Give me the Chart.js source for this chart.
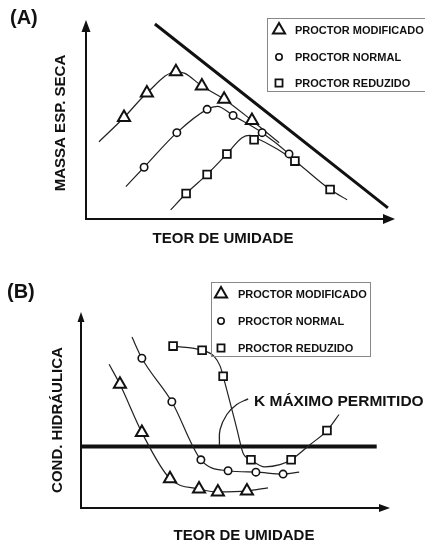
<!DOCTYPE html>
<html>
<head>
<meta charset="utf-8">
<script src="https://cdn.jsdelivr.net/npm/chart.js"></script>
<style>
  html, body { margin: 0; padding: 0; background: #fff; }
  #wrap { position: relative; width: 425px; height: 543px; overflow: hidden; }
  canvas { position: absolute; left: 0; }
  #chartA { top: 0; }
  #chartB { top: 270px; }
</style>
</head>
<body>
<div id="wrap">
  <canvas id="chartA" width="425" height="270"></canvas>
  <canvas id="chartB" width="425" height="273"></canvas>
</div>
<script>
// legend entries (same for both panels)
const seriesNames = ["PROCTOR MODIFICADO", "PROCTOR NORMAL", "PROCTOR REDUZIDO"];
const seriesStyles = ["triangle", "circle", "rect"];

// values are relative units 0-100: x = teor de umidade, y = property

// (A) massa esp. seca - measured points
const massaModificado = [[12.3, 51.0], [19.7, 63.3], [29.1, 74.0], [37.5, 66.8], [44.7, 60.2], [53.7, 49.5]];
const massaNormal = [[18.8, 26.0], [29.4, 43.4], [39.2, 55.1], [47.6, 52.0], [57.0, 43.4], [65.7, 32.7]];
const massaReduzido = [[32.4, 12.8], [39.2, 22.4], [45.6, 32.7], [54.4, 39.8], [67.6, 29.1], [79.0, 14.8]];
// (A) fitted compaction curves
const curvaModificado = [[4.2, 38.8], [12.3, 51.0], [19.7, 63.3], [29.1, 74.0], [32.0, 73.2], [37.5, 66.8], [44.7, 60.2], [53.7, 49.5], [62.5, 38.3]];
const curvaNormal = [[12.9, 16.3], [18.8, 26.0], [29.4, 43.4], [39.2, 55.1], [42.5, 56.6], [47.6, 52.0], [57.0, 43.4], [65.7, 32.7], [69.3, 27.0]];
const curvaReduzido = [[27.4, 4.6], [32.4, 12.8], [39.2, 22.4], [45.6, 32.7], [50.5, 40.8], [53.0, 42.0], [54.4, 41.2], [62.0, 35.0], [67.6, 29.1], [79.0, 14.8], [84.5, 9.7]];
// (A) line of optimums (saturation)
const linhaSaturacao = [[22.3, 98.0], [97.7, 5.6]];

// (B) cond. hidraulica - measured points
const kModificado = [[12.6, 63.1], [19.7, 38.5], [28.8, 14.9], [38.2, 9.7], [44.3, 8.2], [53.7, 8.7]];
const kNormal = [[19.7, 76.4], [29.4, 54.2], [38.8, 24.6], [47.6, 19.0], [56.6, 18.3], [65.4, 17.3]];
const kReduzido = [[29.8, 82.6], [39.2, 80.5], [46.0, 67.2], [55.0, 24.6], [68.0, 24.6], [79.6, 39.5]];
// (B) fitted curves
const curvaKModificado = [[9.1, 73.3], [12.6, 63.1], [19.7, 38.5], [28.8, 14.9], [38.2, 9.7], [44.3, 8.2], [53.7, 8.7], [60.5, 10.3]];
const curvaKNormal = [[16.5, 87.2], [19.7, 76.4], [29.4, 54.2], [38.8, 24.6], [47.6, 19.0], [56.6, 18.3], [65.4, 17.3], [70.6, 18.3]];
const curvaKReduzido = [[29.8, 82.6], [39.2, 80.5], [43.0, 77.5], [45.0, 72.5], [46.0, 67.2], [50.5, 40.0], [52.4, 28.2], [55.0, 24.6], [59.5, 21.0], [64.4, 22.1], [68.0, 24.6], [74.1, 32.3], [79.6, 39.5], [83.5, 47.7]];
// (B) maximum allowed k and its label leader
const kMaximo = [[0, 31.4], [95.7, 31.4]];
const kLeader = [[44.8, 32.3], [45.0, 40.0], [47.2, 47.7], [50.4, 52.8], [54.1, 55.7]];

const FONT = '"Liberation Sans", Arial, sans-serif';
const INK = "#111";
const markerRadius = { triangle: 7, circle: 3.7, rect: 5.5 };
const markerBorder = { triangle: 2, circle: 1.6, rect: 1.8 };

const pts = arr => arr.map(([x, y]) => ({ x, y }));

function curve(arr, width, tension) {
  return {
    data: pts(arr),
    showLine: true,
    pointRadius: 0,
    borderColor: "#222",
    borderWidth: width,
    cubicInterpolationMode: tension ? "default" : "monotone",
    tension: tension || 0,
    clip: false,
    order: 2
  };
}

function markers(arr, i) {
  const style = seriesStyles[i];
  return {
    data: pts(arr),
    showLine: false,
    pointStyle: style,
    pointRadius: markerRadius[style],
    pointBorderWidth: markerBorder[style],
    pointBorderColor: INK,
    pointBackgroundColor: "#fff",
    clip: false,
    order: 0
  };
}

function drawMarker(ctx, style, x, y, r) {
  ctx.beginPath();
  if (style === "triangle") {
    for (let k = 0; k < 3; k++) {
      const a = k * 2 * Math.PI / 3;
      const px = x + Math.sin(a) * r, py = y - Math.cos(a) * r;
      k ? ctx.lineTo(px, py) : ctx.moveTo(px, py);
    }
    ctx.closePath();
  } else if (style === "circle") {
    ctx.arc(x, y, r, 0, Math.PI * 2);
  } else {
    const s = r * Math.SQRT1_2;
    ctx.rect(x - s, y - s, 2 * s, 2 * s);
  }
  ctx.fillStyle = "#fff";
  ctx.fill();
  ctx.lineWidth = markerBorder[style];
  ctx.strokeStyle = INK;
  ctx.stroke();
}

// axes with arrows, titles, panel letter and the boxed legend
function decor(cfg) {
  return {
    id: "decor",
    afterDraw(chart) {
      const ctx = chart.ctx;
      const a = chart.chartArea;
      ctx.save();
      ctx.strokeStyle = INK;
      ctx.fillStyle = INK;
      ctx.lineWidth = 2;
      ctx.beginPath();
      ctx.moveTo(a.left, a.top + cfg.arrowY[0]);
      ctx.lineTo(a.left, a.bottom);
      ctx.lineTo(a.right - cfg.arrowX[0], a.bottom);
      ctx.stroke();
      ctx.beginPath();
      ctx.moveTo(a.left, a.top);
      ctx.lineTo(a.left - cfg.arrowY[1], a.top + cfg.arrowY[0]);
      ctx.lineTo(a.left + cfg.arrowY[1], a.top + cfg.arrowY[0]);
      ctx.closePath();
      ctx.fill();
      ctx.beginPath();
      ctx.moveTo(a.right, a.bottom);
      ctx.lineTo(a.right - cfg.arrowX[0], a.bottom - cfg.arrowX[1]);
      ctx.lineTo(a.right - cfg.arrowX[0], a.bottom + cfg.arrowX[1]);
      ctx.closePath();
      ctx.fill();

      // panel letter
      ctx.font = "bold 20px " + FONT;
      ctx.textAlign = "left";
      ctx.textBaseline = "alphabetic";
      ctx.fillText(cfg.letter, cfg.letterPos[0], cfg.letterPos[1]);

      // axis titles
      ctx.font = "bold 15px " + FONT;
      ctx.textAlign = "center";
      ctx.fillText(cfg.xTitle, cfg.xTitlePos[0], cfg.xTitlePos[1]);
      ctx.save();
      ctx.translate(cfg.yTitlePos[0], cfg.yTitlePos[1]);
      ctx.rotate(-Math.PI / 2);
      ctx.fillText(cfg.yTitle, 0, 0);
      ctx.restore();

      // extra note
      if (cfg.note) {
        ctx.font = "bold 15.5px " + FONT;
        ctx.textAlign = "left";
        ctx.fillText(cfg.note, cfg.notePos[0], cfg.notePos[1]);
      }

      // legend box
      const L = cfg.legend;
      ctx.lineWidth = 1;
      ctx.strokeStyle = "#888";
      ctx.strokeRect(L.x + 0.5, L.y + 0.5, L.w, L.h);
      ctx.font = "bold 11px " + FONT;
      ctx.textAlign = "left";
      ctx.textBaseline = "middle";
      seriesNames.forEach((name, i) => {
        const y = L.rows[i];
        const st = seriesStyles[i];
        const r = st === "triangle" ? 7 : st === "circle" ? 3.2 : 5;
        drawMarker(ctx, st, L.sx, y, r);
        ctx.fillStyle = INK;
        ctx.fillText(name, L.tx, y + 0.5);
      });
      ctx.restore();
    }
  };
}

function baseOptions(padding) {
  return {
    responsive: false,
    animation: false,
    devicePixelRatio: 1,
    layout: { padding },
    scales: {
      x: { type: "linear", min: 0, max: 100, display: false },
      y: { type: "linear", min: 0, max: 100, display: false }
    },
    plugins: { legend: { display: false }, tooltip: { enabled: false } }
  };
}

new Chart(document.getElementById("chartA"), {
  type: "scatter",
  data: {
    datasets: [
      markers(massaModificado, 0),
      markers(massaNormal, 1),
      markers(massaReduzido, 2),
      curve(curvaModificado, 1.2),
      curve(curvaNormal, 1.2),
      curve(curvaReduzido, 1.2),
      Object.assign(curve(linhaSaturacao, 3), { borderColor: INK })
    ]
  },
  options: baseOptions({ left: 86, top: 20, right: 30, bottom: 51 }),
  plugins: [decor({
    letter: "(A)", letterPos: [10, 24],
    xTitle: "TEOR DE UMIDADE", xTitlePos: [223, 243],
    yTitle: "MASSA ESP. SECA", yTitlePos: [65, 123],
    arrowY: [12, 4.5], arrowX: [12, 5],
    legend: { x: 267, y: 18, w: 170, h: 73, sx: 279, tx: 295, rows: [30, 57, 83] }
  })]
});

new Chart(document.getElementById("chartB"), {
  type: "scatter",
  data: {
    datasets: [
      markers(kModificado, 0),
      markers(kNormal, 1),
      markers(kReduzido, 2),
      curve(curvaKModificado, 1.2),
      curve(curvaKNormal, 1.2),
      curve(curvaKReduzido, 1.2),
      Object.assign(curve(kMaximo, 4), { borderColor: INK }),
      curve(kLeader, 1.3, 0.4)
    ]
  },
  options: baseOptions({ left: 81, top: 42, right: 35, bottom: 35 }),
  plugins: [decor({
    letter: "(B)", letterPos: [7, 28],
    xTitle: "TEOR DE UMIDADE", xTitlePos: [244, 270],
    yTitle: "COND. HIDRÁULICA", yTitlePos: [62, 150],
    arrowY: [10, 3.5], arrowX: [11, 4],
    note: "K MÁXIMO PERMITIDO", notePos: [254, 136],
    legend: { x: 211, y: 12, w: 159, h: 74, sx: 221, tx: 238, rows: [24, 51, 78] }
  })]
});
</script>
</body>
</html>
